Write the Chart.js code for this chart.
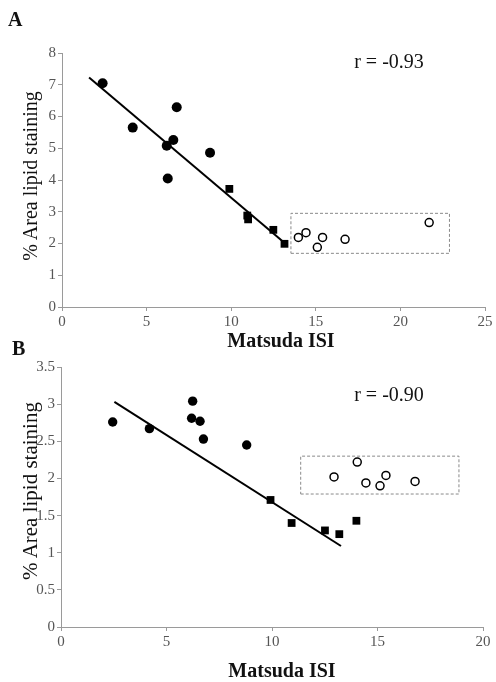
<!DOCTYPE html>
<html>
<head>
<meta charset="utf-8">
<script src="https://cdn.jsdelivr.net/npm/chart.js@4/dist/chart.umd.min.js"></script>
<style>
  html, body { margin: 0; padding: 0; background: #fff; }
  #wrap { position: relative; width: 496px; height: 682px; overflow: hidden; font-family: "Liberation Serif", "DejaVu Serif", serif; }
  canvas { position: absolute; left: 0; }
  .lbl { position: absolute; color: #111; white-space: nowrap; line-height: 1; }
  .panel { font-weight: bold; font-size: 20px; }
  .xt { font-weight: bold; font-size: 20px; transform: translate(-50%, -50%); }
  .yt { font-size: 20px; transform: translate(-50%, -50%) rotate(-90deg); }
  .rv { font-size: 20px; transform: translate(-50%, -50%); }
</style>
</head>
<body>
<div id="wrap">
  <canvas id="chartA" width="496" height="352" style="top:0"></canvas>
  <canvas id="chartB" width="496" height="342" style="top:340px"></canvas>

  <div class="lbl panel" style="left:8px; top:9px">A</div>
  <div class="lbl rv" style="left:389px; top:61px">r = -0.93</div>
  <div class="lbl xt" style="left:281px; top:340px">Matsuda ISI</div>
  <div class="lbl yt" style="left:30px; top:176px">% Area lipid staining</div>

  <div class="lbl panel" style="left:12px; top:338px">B</div>
  <div class="lbl rv" style="left:389px; top:394px">r = -0.90</div>
  <div class="lbl xt" style="left:282px; top:670px">Matsuda ISI</div>
  <div class="lbl yt" style="left:30px; top:491px; font-size:21px">% Area lipid staining</div>
</div>

<script>
// ===== PANEL A DATA =====
const circlesA_x = [2.4, 4.18, 6.19, 6.58, 6.78, 6.25, 8.75];
const circlesA_y = [7.05, 5.65, 5.08, 5.26, 6.29, 4.05, 4.86];
const squaresA_x = [9.89, 10.95, 11.0, 12.49, 13.15];
const squaresA_y = [3.72, 2.88, 2.76, 2.43, 1.99];
const openA_x    = [13.97, 14.42, 15.09, 15.4, 16.73, 21.7];
const openA_y    = [2.19, 2.34, 1.88, 2.19, 2.13, 2.66];
const fitA_x     = [1.6, 13.3];
const fitA_y     = [7.23, 1.95];
const boxA_x     = [13.53, 22.9];
const boxA_y     = [1.69, 2.95];

// ===== PANEL B DATA =====
const circlesB_x = [2.45, 4.19, 6.24, 6.19, 6.59, 6.75, 8.8];
const circlesB_y = [2.76, 2.67, 3.04, 2.81, 2.77, 2.53, 2.45];
const squaresB_x = [9.93, 10.93, 12.51, 13.19, 14.0];
const squaresB_y = [1.71, 1.40, 1.30, 1.25, 1.43];
const openB_x    = [12.94, 14.04, 14.45, 15.12, 15.4, 16.78];
const openB_y    = [2.02, 2.22, 1.94, 1.90, 2.04, 1.96];
const fitB_x     = [2.53, 13.27];
const fitB_y     = [3.03, 1.09];
const boxB_x     = [11.36, 18.86];
const boxB_y     = [1.79, 2.30];

const AXIS_GREY = '#9a9a9a';
const TICK_GREY = '#555';

function pts(xs, ys) {
  return xs.map((x, i) => ({ x: x, y: ys[i] }));
}

function boxPts(bx, by) {
  return [
    { x: bx[0], y: by[0] }, { x: bx[1], y: by[0] },
    { x: bx[1], y: by[1] }, { x: bx[0], y: by[1] },
    { x: bx[0], y: by[0] },
  ];
}

// ======== BUILD ONE PANEL ========
function buildPanel(id, d, cfg) {
  return new Chart(document.getElementById(id), {
    type: 'scatter',
    data: {
      datasets: [
        {
          data: boxPts(d.boxX, d.boxY),
          showLine: true,
          borderColor: '#8a8a8a',
          borderWidth: 1,
          borderDash: [3, 2],
          pointRadius: 0,
          fill: false,
        },
        {
          data: pts(d.fitX, d.fitY),
          showLine: true,
          borderColor: '#000',
          borderWidth: 2,
          pointRadius: 0,
          fill: false,
        },
        {
          data: pts(d.cx, d.cy),
          pointStyle: 'circle',
          pointRadius: cfg.dot,
          backgroundColor: '#000',
          borderColor: '#000',
          borderWidth: 0,
        },
        {
          data: pts(d.sx, d.sy),
          pointStyle: 'rect',
          pointRadius: 5.5,
          backgroundColor: '#000',
          borderColor: '#000',
          borderWidth: 0,
        },
        {
          data: pts(d.ox, d.oy),
          pointStyle: 'circle',
          pointRadius: 4,
          backgroundColor: '#fff',
          borderColor: '#000',
          borderWidth: 1.5,
        },
      ],
    },
    options: {
      responsive: false,
      animation: false,
      layout: { padding: { top: cfg.padTop, right: cfg.padRight, left: 0, bottom: 0 } },
      plugins: { legend: { display: false }, tooltip: { enabled: false } },
      scales: {
        x: {
          type: 'linear',
          min: 0, max: cfg.xMax,
          afterFit: s => { s.height = cfg.xH; },
          border: { color: AXIS_GREY, width: 1 },
          grid: { drawOnChartArea: false, drawTicks: true, tickLength: 4, color: AXIS_GREY },
          ticks: { stepSize: 5, color: TICK_GREY, padding: 2, font: { family: 'Liberation Serif', size: cfg.tickSize } },
        },
        y: {
          type: 'linear',
          min: 0, max: cfg.yMax,
          afterFit: s => { s.width = cfg.yW; },
          border: { color: AXIS_GREY, width: 1 },
          grid: { drawOnChartArea: false, drawTicks: true, tickLength: 4, color: AXIS_GREY },
          ticks: {
            stepSize: cfg.yStep, color: TICK_GREY, padding: 2,
            font: { family: 'Liberation Serif', size: cfg.tickSize },
            callback: v => String(v),
          },
        },
      },
    },
  });
}

buildPanel('chartA',
  { cx: circlesA_x, cy: circlesA_y, sx: squaresA_x, sy: squaresA_y, ox: openA_x, oy: openA_y,
    fitX: fitA_x, fitY: fitA_y, boxX: boxA_x, boxY: boxA_y },
  { xMax: 25, yMax: 8, yStep: 1, padTop: 53, padRight: 11, xH: 45, yW: 62, dot: 5, tickSize: 15 });

buildPanel('chartB',
  { cx: circlesB_x, cy: circlesB_y, sx: squaresB_x, sy: squaresB_y, ox: openB_x, oy: openB_y,
    fitX: fitB_x, fitY: fitB_y, boxX: boxB_x, boxY: boxB_y },
  { xMax: 20, yMax: 3.5, yStep: 0.5, padTop: 27, padRight: 13, xH: 55, yW: 61, dot: 4.7, tickSize: 15 });
</script>
</body>
</html>
